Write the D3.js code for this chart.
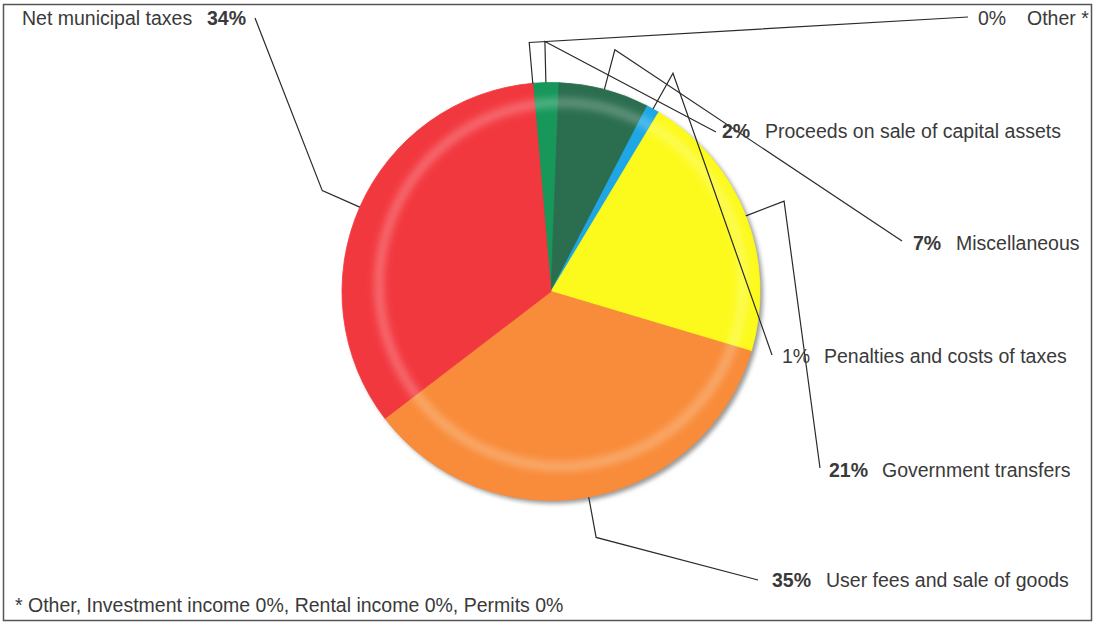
<!DOCTYPE html>
<html>
<head>
<meta charset="utf-8">
<script src="https://cdn.jsdelivr.net/npm/d3@7"></script>
<style>
  body { margin: 0; background: #fff; }
  svg { display: block; }
</style>
</head>
<body>
<svg id="chart" width="1094" height="624"></svg>
<script>
// Revenue sources, in the clockwise order the slices are drawn
const categories = [
  "Other *",
  "Proceeds on sale of capital assets",
  "Miscellaneous",
  "Penalties and costs of taxes",
  "Government transfers",
  "User fees and sale of goods",
  "Net municipal taxes"
];
const shares = [0, 2, 7, 1, 21, 35, 34];            // percent of revenue
const sliceColors = ["#1d4f9c", "#17975a", "#2b6e4f", "#1ea7e4", "#fcfa1c", "#f88c3a", "#f2383f"];
const boldShare = [false, true, true, false, true, true, true];
const footnote = "* Other, Investment income 0%, Rental income 0%, Permits 0%";

// Label placement: where each leader line ends, where the percentage and the name sit
const labelLayout = [
  { end: [968, 17],  pctX: 978, nameX: 1027, base: 25 },
  { end: [716, 132], pctX: 722, nameX: 765,  base: 138 },
  { end: [902, 241], pctX: 913, nameX: 956,  base: 250 },
  { end: [772, 355], pctX: 782, nameX: 824,  base: 363 },
  { end: [820, 468], pctX: 829, nameX: 882,  base: 477 },
  { end: [758, 580], pctX: 772, nameX: 826,  base: 587 },
  { end: [255, 18],  pctX: 207, nameX: 22,   base: 25 }
];

const svg = d3.select("#chart");
const cx = 551, cy = 291.5, R = 209;
const deg = Math.PI / 180;
const startAngle = -5 * deg;
const font = "'Liberation Sans', Arial, sans-serif";
const textColor = "#3a3a3a";

const defs = svg.append("defs");
const shadow = defs.append("filter").attr("id", "pieShadow")
  .attr("x", "-10%").attr("y", "-10%").attr("width", "120%").attr("height", "120%");
shadow.append("feGaussianBlur").attr("stdDeviation", 2.2);
const soft = defs.append("filter").attr("id", "softRing")
  .attr("x", "-10%").attr("y", "-10%").attr("width", "120%").attr("height", "120%");
soft.append("feGaussianBlur").attr("stdDeviation", 3.5);
defs.append("clipPath").attr("id", "pieClip")
  .append("circle").attr("cx", cx).attr("cy", cy).attr("r", R);

// Outer frame
svg.append("rect")
  .attr("x", 3.5).attr("y", 4.5).attr("width", 1088).attr("height", 616)
  .attr("fill", "none").attr("stroke", "#555").attr("stroke-width", 1.5);

const data = categories.map((name, i) => ({
  name, value: shares[i], color: sliceColors[i], bold: boldShare[i], layout: labelLayout[i]
}));

const pie = d3.pie().value(d => d.value).sort(null)
  .startAngle(startAngle).endAngle(startAngle + 2 * Math.PI);
const arcs = pie(data);
const arc = d3.arc().innerRadius(0).outerRadius(R);

const g = svg.append("g").attr("transform", `translate(${cx},${cy})`);

// Soft drop shadow under the disc
g.append("circle").attr("cx", 3).attr("cy", 3).attr("r", R)
  .attr("fill", "#9a9a9a").attr("filter", "url(#pieShadow)");

// Slices
g.selectAll("path.slice").data(arcs).join("path")
  .attr("class", "slice")
  .attr("d", arc)
  .attr("fill", d => d.data.color)
  .attr("stroke", d => d.data.color)
  .attr("stroke-width", d => d.data.value === 0 ? 2 : 0.8)
  .attr("stroke-linejoin", "round");

// Glossy lighter band running round the disc
svg.append("g").attr("clip-path", "url(#pieClip)")
  .append("circle")
  .attr("cx", cx + 10).attr("cy", cy - 7).attr("r", 182)
  .attr("fill", "none").attr("stroke", "#fff").attr("stroke-opacity", 0.24)
  .attr("stroke-width", 10).attr("filter", "url(#softRing)");

// Leader lines: from the rim at the slice's mid angle, out to an elbow, then to the label
const mid = d => (d.startAngle + d.endAngle) / 2;
const polar = (a, r) => [cx + r * Math.sin(a), cy - r * Math.cos(a)];
const line = d3.line();
svg.selectAll("path.leader").data(arcs).join("path")
  .attr("class", "leader")
  .attr("d", d => line([polar(mid(d), R), polar(mid(d), R + 41), d.data.layout.end]))
  .attr("fill", "none").attr("stroke", "#2a2a2a").attr("stroke-width", 1.2);

// Labels: percentage and category name
const labels = svg.selectAll("g.label").data(arcs).join("g").attr("class", "label")
  .attr("font-family", font).attr("font-size", 19.5).attr("fill", textColor);

labels.append("text")
  .attr("x", d => d.data.layout.pctX)
  .attr("y", d => d.data.layout.base)
  .attr("font-weight", d => d.data.bold ? "bold" : "normal")
  .text(d => d.data.value + "%");

labels.append("text")
  .attr("x", d => d.data.layout.nameX)
  .attr("y", d => d.data.layout.base)
  .text(d => d.data.name);

// Footnote
svg.append("text")
  .attr("x", 15).attr("y", 612)
  .attr("font-family", font).attr("font-size", 19.5).attr("fill", textColor)
  .text(footnote);
</script>
</body>
</html>
